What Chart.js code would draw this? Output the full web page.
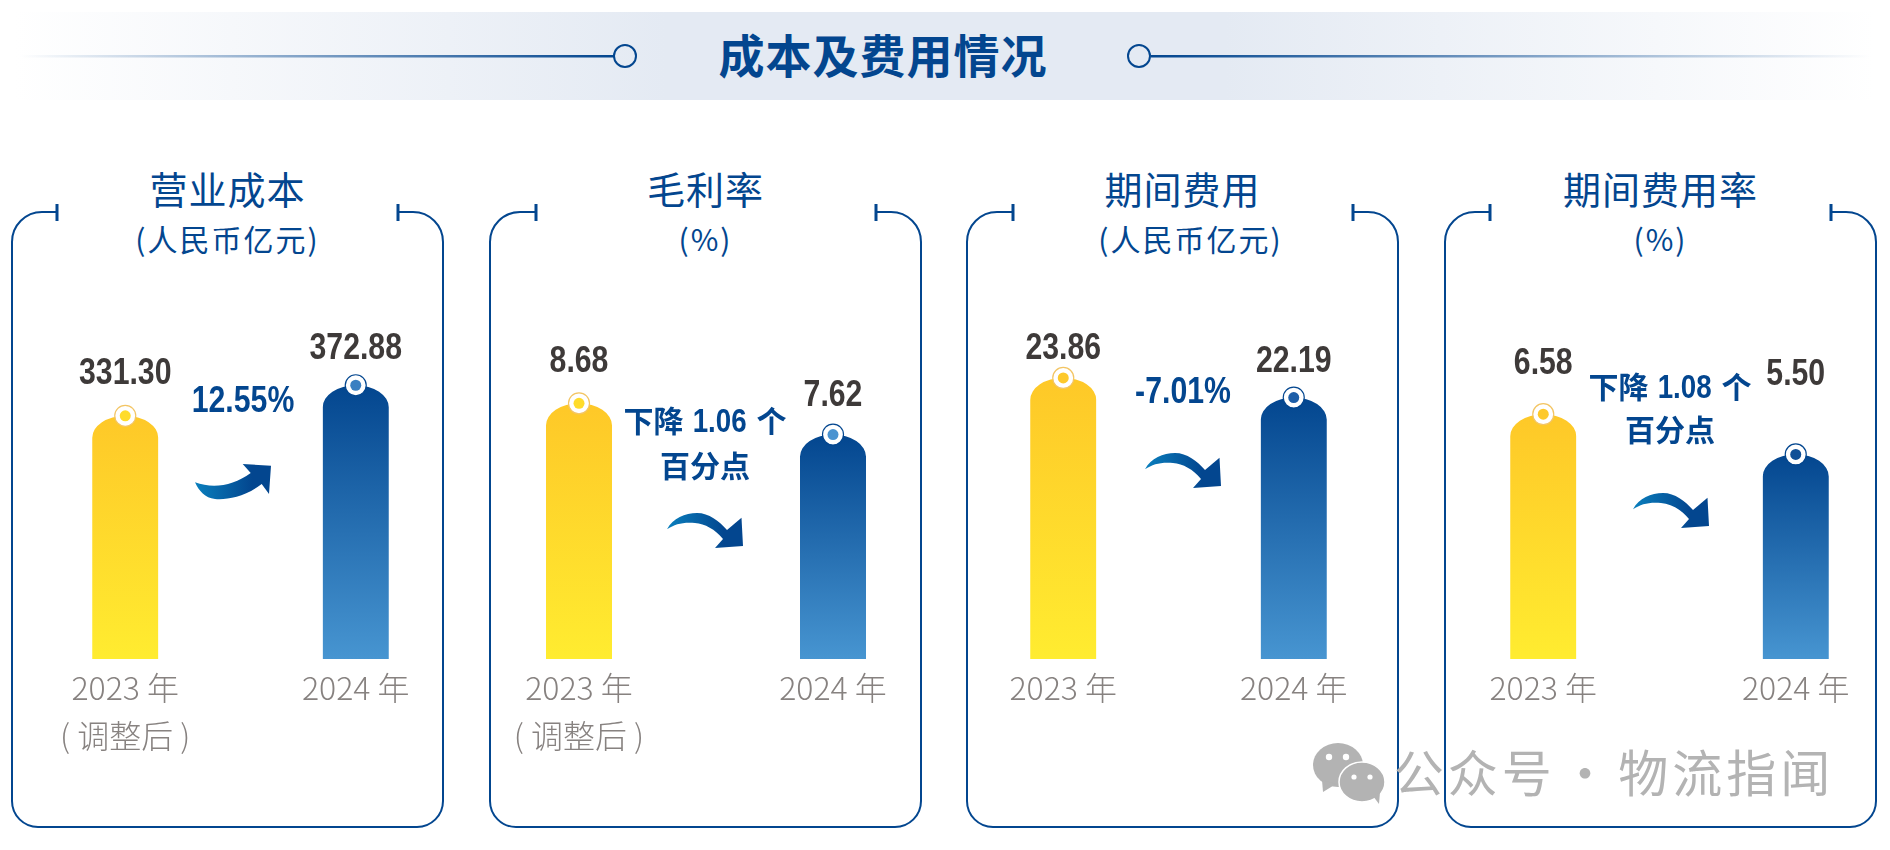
<!DOCTYPE html>
<html lang="zh">
<head>
<meta charset="utf-8">
<title>成本及费用情况</title>
<script src="https://cdn.jsdelivr.net/npm/chart.js@4"></script>
<style>
  html, body { margin: 0; padding: 0; background: #fff; }
  #page { position: relative; width: 1890px; height: 850px; overflow: hidden; font-family: "Noto Sans CJK SC", sans-serif; }
  #page canvas, #page svg { position: absolute; }
  .txt { position: absolute; transform: translate(-50%, -50%); white-space: pre; line-height: 1; color: #03468f; }
  .band { position: absolute; left: 15px; top: 12px; width: 1860px; height: 88px;
    background: linear-gradient(90deg, rgba(228,234,243,0), #e4eaf3 35%, #e4eaf3 65%, rgba(228,234,243,0)); }
  .main { font-size: 46px; font-weight: 700; letter-spacing: 1px; }
  .head { font-size: 38px; letter-spacing: 1px; }
  .unit { font-size: 30px; letter-spacing: 2px; }
  .note { font-family: "Liberation Sans", "Noto Sans CJK SC", sans-serif; font-size: 36px; font-weight: 700; transform: translate(-50%, -50%) scaleX(0.84); }
  .note2 { font-family: "Liberation Sans", "Noto Sans CJK SC", sans-serif; font-size: 30px; font-weight: 700; word-spacing: 1px; }
  .num { display: inline-block; font-size: 33px; transform: scaleX(0.84); margin: 0 -5px; }
  .mark { font-size: 50px; color: #b3b3b3; letter-spacing: 4px; word-spacing: -11px; }
</style>
</head>
<body>
<div id="page"><div class="band"></div></div>
<script>
// Données
const panelTitles = ["营业成本", "毛利率", "期间费用", "期间费用率"];
const panelUnits = ["(人民币亿元)", "(%)", "(人民币亿元)", "(%)"];
const yearsAdjusted = [["2023 年", "( 调整后 )"], "2024 年"];
const yearsPlain = ["2023 年", "2024 年"];
const costValues = [331.30, 372.88];
const marginValues = [8.68, 7.62];
const expenseValues = [23.86, 22.19];
const expenseRateValues = [6.58, 5.50];

// Position des panneaux sur la page
const panels = [
  { left: 12, right: 443, tickL: 57, tickR: 398, unitShift: 0, bar1: 125, bar2: 355.5, yMax: 489, labelY: [374.5, 349.5], dots: ["#ffdc2a", "#3a7fc1"], values: costValues, labels: yearsAdjusted },
  { left: 490, right: 921, tickL: 536, tickR: 876, unitShift: 0, bar1: 579, bar2: 833, yMax: 12.19, labelY: [362.5, 396.5], dots: ["#ffdc2a", "#4a93d0"], values: marginValues, labels: yearsAdjusted },
  { left: 967, right: 1398, tickL: 1013, tickR: 1353, unitShift: 8, bar1: 1063, bar2: 1293.5, yMax: 30.47, labelY: [349.5, 362.5], dots: ["#fdc92b", "#1d5ea8"], values: expenseValues, labels: yearsPlain },
  { left: 1445, right: 1876, tickL: 1490, tickR: 1831, unitShift: 0, bar1: 1543, bar2: 1795.5, yMax: 9.65, labelY: [364.5, 375.5], dots: ["#fdc92b", "#0f4f96"], values: expenseRateValues, labels: yearsPlain }
];

const chartTop = 300;
const chartHeight = 470;
const axisHeight = 111; // bas des barres à y=659
const page = document.getElementById("page");
const NS = "http://www.w3.org/2000/svg";

function addText(x, y, html, cls) {
  const el = document.createElement("div");
  el.className = "txt " + cls;
  el.style.left = x + "px";
  el.style.top = y + "px";
  el.innerHTML = html;
  page.appendChild(el);
}

// Cadres, flèches, bandeau et filigrane en SVG
function buildSvg() {
  let html = `<defs>
    <linearGradient id="lineL" x1="0" x2="1"><stop offset="0" stop-color="#03468f" stop-opacity="0"/><stop offset="1" stop-color="#03468f"/></linearGradient>
    <linearGradient id="lineR" x1="0" x2="1"><stop offset="0" stop-color="#03468f"/><stop offset="1" stop-color="#03468f" stop-opacity="0"/></linearGradient>
    <linearGradient id="arrow" x1="0" x2="1"><stop offset="0" stop-color="#0a7fbd"/><stop offset="0.75" stop-color="#03468f"/></linearGradient>
    <path id="arrowUp" d="M0,18.3 C18,25 38,22 55.7,9 L47.7,0 L76,1.7 L74,30 L66.7,20 C50,33 32,36 20,35 C10,34 4,27 0,18.3 Z"/>
    <path id="arrowDown" d="M0,16.3 C6,5 18,0 30,0 C42,0 52,8 60,17 L74.5,4.7 L76,33 L48,35 L56,26 C48,16 38,11 28,10 C16,9 8,11 0,16.3 Z"/>
  </defs>`;

  html += `<rect x="20" y="55" width="594" height="2.5" fill="url(#lineL)"/>`;
  html += `<rect x="1151" y="55" width="719" height="2.5" fill="url(#lineR)"/>`;
  html += `<circle cx="625" cy="56" r="11" fill="none" stroke="#03468f" stroke-width="2"/>`;
  html += `<circle cx="1139" cy="56" r="11" fill="none" stroke="#03468f" stroke-width="2"/>`;

  panels.forEach(p => {
    const top = 212, bottom = 827, rt = 30, rb = 26;
    const d = `M${p.tickL},${top} H${p.left + rt} A${rt},${rt} 0 0 0 ${p.left},${top + rt} V${bottom - rb} A${rb},${rb} 0 0 0 ${p.left + rb},${bottom} H${p.right - rb} A${rb},${rb} 0 0 0 ${p.right},${bottom - rb} V${top + rt} A${rt},${rt} 0 0 0 ${p.right - rt},${top} H${p.tickR}`;
    html += `<path d="${d}" fill="none" stroke="#03468f" stroke-width="2"/>`;
    html += `<path d="M${p.tickL},204 V221 M${p.tickR},204 V221" stroke="#03468f" stroke-width="3"/>`;
  });

  html += `<use href="#arrowUp" x="195" y="464" fill="url(#arrow)"/>`;
  html += `<use href="#arrowDown" x="667" y="513" fill="url(#arrow)"/>`;
  html += `<use href="#arrowDown" x="1145" y="453" fill="url(#arrow)"/>`;
  html += `<use href="#arrowDown" x="1633" y="493" fill="url(#arrow)"/>`;

  // Icône du filigrane
  html += `<g fill="#b3b3b3">
    <ellipse cx="1338" cy="765" rx="25" ry="22"/><path d="M1322,780 L1323,792 L1336,784 Z"/>
    <ellipse cx="1362" cy="782" rx="23" ry="20" stroke="#fff" stroke-width="1.5"/><path d="M1373,796 L1379,804 L1380,792 Z"/>
    <circle cx="1329" cy="757" r="3.2" fill="#fff"/><circle cx="1346" cy="757" r="3.2" fill="#fff"/>
    <circle cx="1354" cy="777" r="2.6" fill="#fff"/><circle cx="1370" cy="777" r="2.6" fill="#fff"/>
  </g>`;

  const svg = document.createElementNS(NS, "svg");
  svg.setAttribute("width", 1890);
  svg.setAttribute("height", 850);
  svg.style.left = "0";
  svg.style.top = "0";
  svg.innerHTML = html;
  page.appendChild(svg);
}

// Haut de barre en ellipse, comme sur l'image
const capPlugin = {
  id: "cap",
  beforeDatasetDraw(chart) {
    const ctx = chart.ctx;
    ctx.save();
    ctx.beginPath();
    chart.getDatasetMeta(0).data.forEach(bar => {
      const w = bar.width / 2;
      ctx.moveTo(bar.x - w, bar.base);
      ctx.lineTo(bar.x - w, bar.y + 22);
      ctx.ellipse(bar.x, bar.y + 22, w, 22, 0, Math.PI, 2 * Math.PI);
      ctx.lineTo(bar.x + w, bar.base);
      ctx.closePath();
    });
    ctx.clip();
  },
  afterDatasetDraw(chart) {
    chart.ctx.restore();
  }
};

// Pastille et valeur au-dessus de chaque barre
const decorPlugin = {
  id: "decor",
  afterDatasetsDraw(chart, args, opts) {
    const ctx = chart.ctx;
    const values = chart.data.datasets[0].data;
    chart.getDatasetMeta(0).data.forEach((bar, i) => {
      ctx.beginPath();
      ctx.arc(bar.x, bar.y, 10.5, 0, 2 * Math.PI);
      ctx.fillStyle = "#fff";
      ctx.fill();
      ctx.lineWidth = 1.2;
      ctx.strokeStyle = i === 0 ? "#f3c564" : "#03468f";
      ctx.stroke();
      ctx.beginPath();
      ctx.arc(bar.x, bar.y, 5.5, 0, 2 * Math.PI);
      ctx.fillStyle = opts.dots[i];
      ctx.fill();

      // pas de police étroite installée : on resserre le texte
      ctx.save();
      ctx.translate(bar.x, opts.labelY[i] - chartTop);
      ctx.scale(0.84, 1);
      ctx.fillStyle = "#3e3a39";
      ctx.font = "700 36px 'Liberation Sans', sans-serif";
      ctx.textAlign = "center";
      ctx.textBaseline = "middle";
      ctx.fillText(values[i].toFixed(2), 0, 0);
      ctx.restore();
    });
  }
};

function barGradient(context, from, to) {
  const chart = context.chart;
  if (!chart.chartArea) return from; // pas encore de mise en page
  const y = chart.scales.y;
  const value = chart.data.datasets[0].data[context.dataIndex];
  const g = chart.ctx.createLinearGradient(0, y.getPixelForValue(value), 0, y.getPixelForValue(0));
  g.addColorStop(0, from);
  g.addColorStop(1, to);
  return g;
}

function initPanelChart(p) {
  const spacing = p.bar2 - p.bar1;
  const canvas = document.createElement("canvas");
  canvas.width = spacing * 2;
  canvas.height = chartHeight;
  canvas.style.left = (p.bar1 - spacing / 2) + "px";
  canvas.style.top = chartTop + "px";
  page.appendChild(canvas);

  new Chart(canvas.getContext("2d"), {
    type: "bar",
    data: {
      labels: p.labels,
      datasets: [{
        data: p.values,
        barThickness: 66,
        backgroundColor: c => c.dataIndex === 0 ? barGradient(c, "#fec828", "#ffec30") : barGradient(c, "#03468f", "#4795d1")
      }]
    },
    options: {
      responsive: false,
      animation: false,
      layout: { padding: 0 },
      plugins: {
        legend: { display: false },
        tooltip: { enabled: false },
        decor: { labelY: p.labelY, dots: p.dots }
      },
      scales: {
        x: {
          grid: { display: false, drawTicks: false },
          border: { display: false },
          afterFit: s => { s.height = axisHeight; },
          ticks: {
            color: "#878280",
            padding: 5,
            maxRotation: 0,
            autoSkip: false,
            font: { family: "'Noto Sans CJK SC', sans-serif", size: 32, weight: 300, lineHeight: 1.5 }
          }
        },
        y: { display: false, min: 0, max: p.yMax }
      }
    },
    plugins: [capPlugin, decorPlugin]
  });
}

buildSvg();
panels.forEach((p, i) => {
  initPanelChart(p);
  const center = (p.left + p.right) / 2;
  addText(center, 187.5, panelTitles[i], "head");
  addText(center + p.unitShift, 237.5, panelUnits[i], "unit");
});

addText(883, 52.5, "成本及费用情况", "main");
addText(243, 400, "12.55%", "note");
addText(705, 419.5, '下降 <span class="num">1.06</span> 个', "note2");
addText(705, 467, "百分点", "note2");
addText(1183, 390.5, "-7.01%", "note");
addText(1670, 385.5, '下降 <span class="num">1.08</span> 个', "note2");
addText(1670, 430.5, "百分点", "note2");
addText(1614, 769.5, "公众号 · 物流指闻", "mark");
</script>
</body>
</html>
